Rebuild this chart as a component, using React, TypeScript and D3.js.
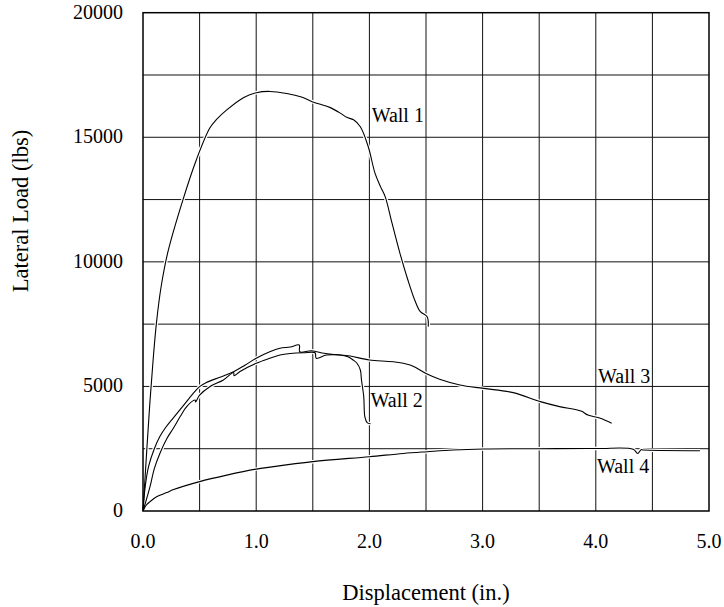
import { useEffect, useRef } from "react";
import * as d3 from "d3";

// tick labels and grid lines
const xTicks = [0, 1, 2, 3, 4, 5];
const yTicks = [0, 5000, 10000, 15000, 20000];
const xGrid = [0.5, 1, 1.5, 2, 2.5, 3, 3.5, 4, 4.5];
const yGrid = [2500, 5000, 7500, 10000, 12500, 15000, 17500];

// Wall 1
const wall1X = [0, 0.03, 0.06, 0.09, 0.12, 0.16, 0.22, 0.35, 0.47, 0.59, 0.65, 0.74, 0.89, 1.0, 1.12, 1.27, 1.4, 1.5, 1.65, 1.75, 1.8, 1.86, 1.92, 1.99, 2.05, 2.1, 2.14, 2.2, 2.27, 2.34, 2.4, 2.45, 2.51, 2.52];
const wall1Y = [0, 2200, 4300, 6100, 7600, 9000, 10400, 12450, 14080, 15370, 15720, 16100, 16600, 16790, 16840, 16760, 16620, 16420, 16200, 15950, 15800, 15700, 15420, 14620, 13550, 13000, 12610, 11550, 10340, 9270, 8470, 8000, 7800, 7400];

// Wall 2
const wall2X = [0, 0.02, 0.062, 0.1, 0.15, 0.21, 0.268, 0.33, 0.386, 0.46, 0.465, 0.5, 0.59, 0.71, 0.8, 0.805, 0.857, 1.0, 1.12, 1.21, 1.3, 1.42, 1.52, 1.53, 1.62, 1.74, 1.81, 1.86, 1.89, 1.92, 1.93, 1.95, 1.96, 1.98, 2.01];
const wall2Y = [0, 300, 975, 1700, 2320, 2900, 3320, 3800, 4190, 4450, 4380, 4650, 4990, 5260, 5560, 5430, 5600, 5930, 6130, 6260, 6320, 6350, 6350, 6130, 6260, 6260, 6190, 6050, 5930, 5660, 5260, 4590, 3780, 3550, 3500];

// Wall 3
const wall3X = [0, 0.02, 0.05, 0.1, 0.15, 0.2, 0.27, 0.36, 0.44, 0.5, 0.56, 0.68, 0.8, 0.9, 1.0, 1.12, 1.21, 1.3, 1.38, 1.385, 1.49, 1.6, 1.7, 1.83, 2.0, 2.21, 2.36, 2.42, 2.51, 2.62, 2.8, 3.01, 3.27, 3.51, 3.68, 3.87, 3.93, 4.04, 4.14];
const wall3Y = [0, 1000, 1800, 2500, 3000, 3350, 3750, 4250, 4700, 4990, 5160, 5370, 5590, 5850, 6130, 6390, 6530, 6580, 6660, 6390, 6430, 6330, 6280, 6220, 6060, 5990, 5860, 5730, 5500, 5290, 5060, 4920, 4750, 4390, 4190, 4010, 3850, 3720, 3520];

// Wall 4
const wall4X = [0, 0.03, 0.062, 0.12, 0.21, 0.27, 0.5, 0.74, 1.0, 1.12, 1.5, 2.0, 2.3, 2.51, 2.74, 3.01, 3.48, 4.01, 4.33, 4.37, 4.4, 4.42, 4.92];
const wall4Y = [0, 240, 375, 570, 740, 860, 1180, 1440, 1680, 1760, 1980, 2180, 2310, 2380, 2450, 2490, 2500, 2510, 2480, 2310, 2460, 2450, 2420];

const wallNames = ["Wall 1", "Wall 2", "Wall 3", "Wall 4"];
// label anchor (left edge, baseline) in data units
const labelX = [2.02, 2.01, 4.02, 4.01];
const labelY = [15610, 4170, 5140, 1520];

export default function App() {
  const ref = useRef<SVGSVGElement>(null);

  useEffect(() => {
    if (!ref.current) return;
    const svg = d3.select(ref.current);
    svg.selectAll("*").remove();

    const left = 143, right = 709, top = 12.7, bottom = 511;
    const font = "'Liberation Serif', 'Times New Roman', serif";

    const x = d3.scaleLinear().domain([0, 5]).range([left, right]);
    const y = d3.scaleLinear().domain([0, 20000]).range([bottom, top]);

    // grid
    const grid = svg.append("g").attr("stroke", "#111").attr("stroke-width", 1);
    grid.selectAll("line.v")
      .data(xGrid)
      .join("line")
        .attr("x1", d => x(d)).attr("x2", d => x(d))
        .attr("y1", top).attr("y2", bottom);
    grid.selectAll("line.h")
      .data(yGrid)
      .join("line")
        .attr("class", "h")
        .attr("x1", left).attr("x2", right)
        .attr("y1", d => y(d)).attr("y2", d => y(d));

    const series = [
      [wall1X, wall1Y],
      [wall2X, wall2Y],
      [wall3X, wall3Y],
      [wall4X, wall4Y],
    ].map(([xs, ys]) => xs.map((v, i) => [v, ys[i]] as [number, number]));

    const line = d3.line<[number, number]>()
      .x(d => x(d[0]))
      .y(d => y(d[1]))
      .curve(d3.curveCatmullRom.alpha(0.5));

    // white halo under each curve, so the grid breaks where curves cross
    svg.append("g")
      .selectAll("path")
      .data(series)
      .join("path")
        .attr("d", d => line(d))
        .attr("fill", "none")
        .attr("stroke", "#fff")
        .attr("stroke-width", 3.5);

    svg.append("g")
      .selectAll("path")
      .data(series)
      .join("path")
        .attr("d", d => line(d))
        .attr("fill", "none")
        .attr("stroke", "#000")
        .attr("stroke-width", 1.1);

    // frame
    svg.append("rect")
      .attr("x", left).attr("y", top)
      .attr("width", right - left).attr("height", bottom - top)
      .attr("fill", "none")
      .attr("stroke", "#000")
      .attr("stroke-width", 1.5);

    // tick labels
    svg.append("g")
      .selectAll("text")
      .data(xTicks)
      .join("text")
        .attr("x", d => x(d))
        .attr("y", 548)
        .attr("text-anchor", "middle")
        .attr("font-family", font)
        .attr("font-size", 20)
        .text(d => d3.format(".1f")(d));

    svg.append("g")
      .selectAll("text")
      .data(yTicks)
      .join("text")
        .attr("x", 123)
        .attr("y", d => y(d) + 6)
        .attr("text-anchor", "end")
        .attr("font-family", font)
        .attr("font-size", 20)
        .text(d => String(d));

    // wall labels
    svg.append("g")
      .selectAll("text")
      .data(wallNames)
      .join("text")
        .attr("x", (_, i) => x(labelX[i]))
        .attr("y", (_, i) => y(labelY[i]))
        .attr("font-family", font)
        .attr("font-size", 20)
        .text(d => d);

    // axis titles
    svg.append("text")
      .attr("x", (left + right) / 2)
      .attr("y", 600)
      .attr("text-anchor", "middle")
      .attr("font-family", font)
      .attr("font-size", 22.5)
      .text("Displacement (in.)");

    svg.append("text")
      .attr("transform", "translate(28,211) rotate(-90)")
      .attr("text-anchor", "middle")
      .attr("font-family", font)
      .attr("font-size", 22.5)
      .text("Lateral Load (lbs)");
  }, []);

  return (
    <svg
      ref={ref}
      width={724}
      height={607}
      style={{ position: "absolute", left: 0, top: 0, background: "#fff" }}
    />
  );
}
